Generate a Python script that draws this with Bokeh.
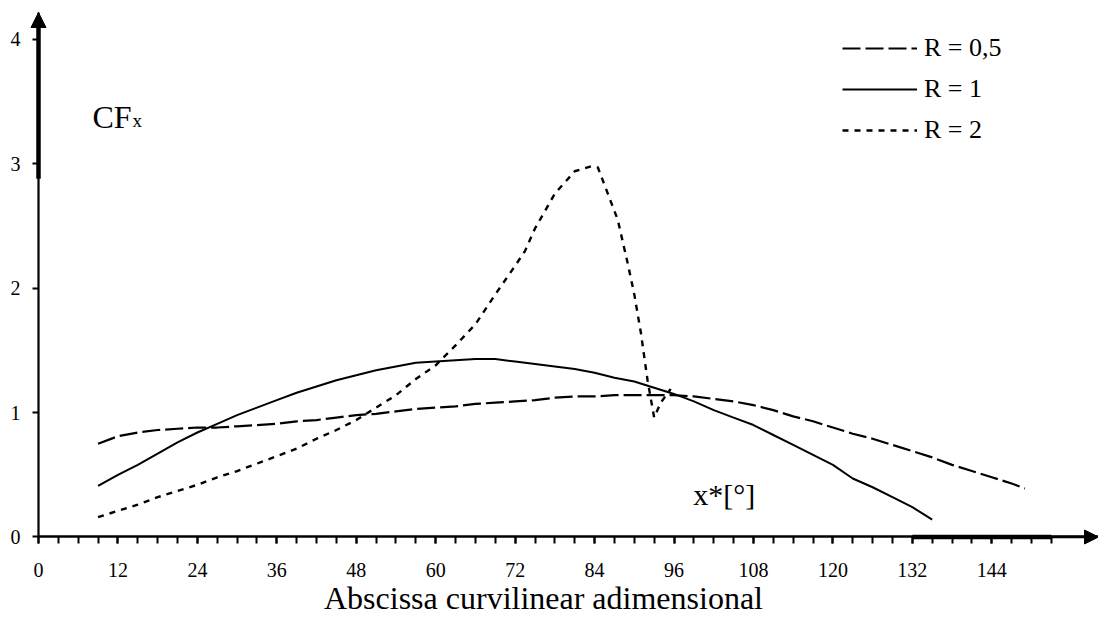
from bokeh.plotting import figure
from bokeh.models import (FixedTicker, Legend, LegendItem, Label, Arrow, NormalHead, Range1d,
                          LinearAxis)
from bokeh.embed import file_html
from bokeh.resources import INLINE

FONT = "Liberation Serif"

# ---- data ----
x_r05 = [9, 12, 15, 18, 21, 24, 27, 30, 33, 36, 39, 42, 45, 48, 51, 54, 57, 60, 63, 66, 69, 72, 75, 78,
         81, 84, 87, 90, 93, 96, 99, 102, 105, 108, 111, 114, 117, 120, 123, 126, 129, 132, 135, 138,
         141, 144, 147, 149]
y_r05 = [0.75, 0.81, 0.84, 0.86, 0.87, 0.88, 0.88, 0.89, 0.90, 0.91, 0.93, 0.94, 0.96, 0.98, 0.99, 1.01,
         1.03, 1.04, 1.05, 1.07, 1.08, 1.09, 1.10, 1.12, 1.13, 1.13, 1.14, 1.14, 1.14, 1.14, 1.13, 1.11,
         1.09, 1.06, 1.02, 0.97, 0.93, 0.88, 0.83, 0.79, 0.74, 0.69, 0.64, 0.58, 0.53, 0.48, 0.43, 0.39]

x_r1 = [9, 12, 15, 18, 21, 24, 27, 30, 33, 36, 39, 42, 45, 48, 51, 54, 57, 60, 63, 66, 69, 72, 75, 78,
        81, 84, 87, 90, 93, 96, 99, 102, 105, 108, 111, 114, 117, 120, 123, 126, 129, 132, 135]
y_r1 = [0.41, 0.50, 0.58, 0.67, 0.76, 0.84, 0.91, 0.98, 1.04, 1.10, 1.16, 1.21, 1.26, 1.30, 1.34, 1.37,
        1.40, 1.41, 1.42, 1.43, 1.43, 1.41, 1.39, 1.37, 1.35, 1.32, 1.28, 1.25, 1.20, 1.15, 1.09, 1.02,
        0.96, 0.90, 0.82, 0.74, 0.66, 0.58, 0.47, 0.40, 0.32, 0.24, 0.14]

x_r2 = [9, 12, 15, 18, 21, 24, 27, 30, 33, 36, 39, 42, 45, 48, 51, 54, 57, 60, 63, 66, 69, 72, 73.5, 75,
        78, 81, 83.5, 84.5, 86, 87.5, 89, 90, 91, 92, 93, 94, 95.5]
y_r2 = [0.16, 0.21, 0.26, 0.32, 0.37, 0.42, 0.48, 0.53, 0.59, 0.65, 0.71, 0.79, 0.86, 0.94, 1.04, 1.14,
        1.27, 1.38, 1.54, 1.71, 1.95, 2.18, 2.30, 2.48, 2.76, 2.94, 2.98, 2.97, 2.76, 2.55, 2.20, 1.95,
        1.64, 1.26, 0.96, 1.08, 1.19]

labels = ["R = 0,5", "R = 1", "R = 2"]
x_ticks = list(range(0, 145, 12))
x_minor = list(range(0, 154, 3))
y_ticks = [0, 1, 2, 3, 4]
x_title = "Abscissa curvilinear adimensional"

# the plotting frame covers the whole canvas; axes sit at data 0
X_START, X_END = -5.74, 160.12
Y_START, Y_END = -0.6632, 4.3127
Y_TOP = 4.216      # where the vertical axis arrow ends

p = figure(width=1098, height=619, x_range=Range1d(X_START, X_END), y_range=Range1d(Y_START, Y_END),
           output_backend="svg", toolbar_location=None,
           min_border_left=0, min_border_right=0, min_border_top=0, min_border_bottom=0)
p.xgrid.visible = False
p.ygrid.visible = False
p.outline_line_color = None
p.background_fill_color = "white"
p.border_fill_color = "white"

xa = p.xaxis[0]
xa.fixed_location = 0
xa.bounds = (0, X_END)
xa.ticker = FixedTicker(ticks=x_ticks, minor_ticks=x_minor)
xa.axis_line_width = 2.5
xa.axis_line_color = "black"
xa.major_tick_out = 7
xa.major_tick_in = 0
xa.minor_tick_out = 7
xa.minor_tick_in = 0
xa.major_tick_line_width = 2
xa.minor_tick_line_width = 2
xa.major_tick_line_color = "black"
xa.minor_tick_line_color = "black"
xa.major_label_text_font = FONT
xa.major_label_text_font_size = "20px"
xa.major_label_text_color = "black"
xa.major_label_standoff = 19

ya = p.yaxis[0]
ya.fixed_location = 0
ya.bounds = (0, Y_TOP)
ya.ticker = FixedTicker(ticks=y_ticks, minor_ticks=[])
ya.axis_line_width = 2.2
ya.axis_line_color = "black"
ya.major_tick_out = 6
ya.major_tick_in = 0
ya.major_tick_line_width = 2
ya.major_tick_line_color = "black"
ya.major_label_text_font = FONT
ya.major_label_text_font_size = "20px"
ya.major_label_text_color = "black"
ya.major_label_standoff = 12

# axis carrying only the title, centred where the reference centres it
ta = LinearAxis(ticker=FixedTicker(ticks=[]), fixed_location=0, bounds=(0, 152.6),
                axis_line_color=None, major_tick_line_color=None, minor_tick_line_color=None,
                major_tick_out=0, minor_tick_out=0,
                axis_label=x_title, axis_label_text_font=FONT, axis_label_text_font_size="32px",
                axis_label_text_font_style="normal", axis_label_text_color="black",
                axis_label_standoff=43)
p.add_layout(ta, "below")

# data lines
r05 = p.line(x_r05, y_r05, line_color="black", line_width=2.2, line_dash="18 5")
r1 = p.line(x_r1, y_r1, line_color="black", line_width=2)
r2 = p.line(x_r2, y_r2, line_color="black", line_width=2.4, line_dash="6 6")

legend = Legend(items=[LegendItem(label=labels[0], renderers=[r05]),
                       LegendItem(label=labels[1], renderers=[r1]),
                       LegendItem(label=labels[2], renderers=[r2])],
                location=(842, 474), glyph_width=75, glyph_height=30, label_height=30,
                label_standoff=7, spacing=11, padding=0, margin=0,
                label_text_font=FONT, label_text_font_size="26px", label_text_color="black",
                border_line_alpha=0, background_fill_alpha=0)
p.add_layout(legend)

# axis arrows and thick axis parts
p.add_layout(Arrow(end=NormalHead(size=15, fill_color="black", line_color="black"),
                   x_start=0, y_start=3.9, x_end=0, y_end=Y_TOP, line_width=2.5, line_color="black"))
p.add_layout(Arrow(end=NormalHead(size=14, fill_color="black", line_color="black"),
                   x_start=150, y_start=0, x_end=X_END, y_end=0, line_width=2.5, line_color="black"))
p.add_layout(Arrow(end=None, x_start=0, y_start=2.88, x_end=0, y_end=4.1, line_width=4.5,
                   line_color="black"))
p.add_layout(Arrow(end=None, x_start=132, y_start=0, x_end=153, y_end=0, line_width=4.5,
                   line_color="black"))

# texts
p.add_layout(Label(x=8.16, y=3.375, text="CF", text_font=FONT, text_font_size="32px",
                   text_baseline="alphabetic", text_align="left", text_color="black"))
p.add_layout(Label(x=14.2, y=3.35, text="x", text_font=FONT, text_font_size="19px",
                   text_baseline="alphabetic", text_align="left", text_color="black"))
p.add_layout(Label(x=98.9, y=0.345, text="x*[°]", text_font=FONT, text_font_size="30px",
                   text_baseline="alphabetic", text_align="left", text_color="black"))

open("out.html", "w").write(file_html(p, INLINE))
